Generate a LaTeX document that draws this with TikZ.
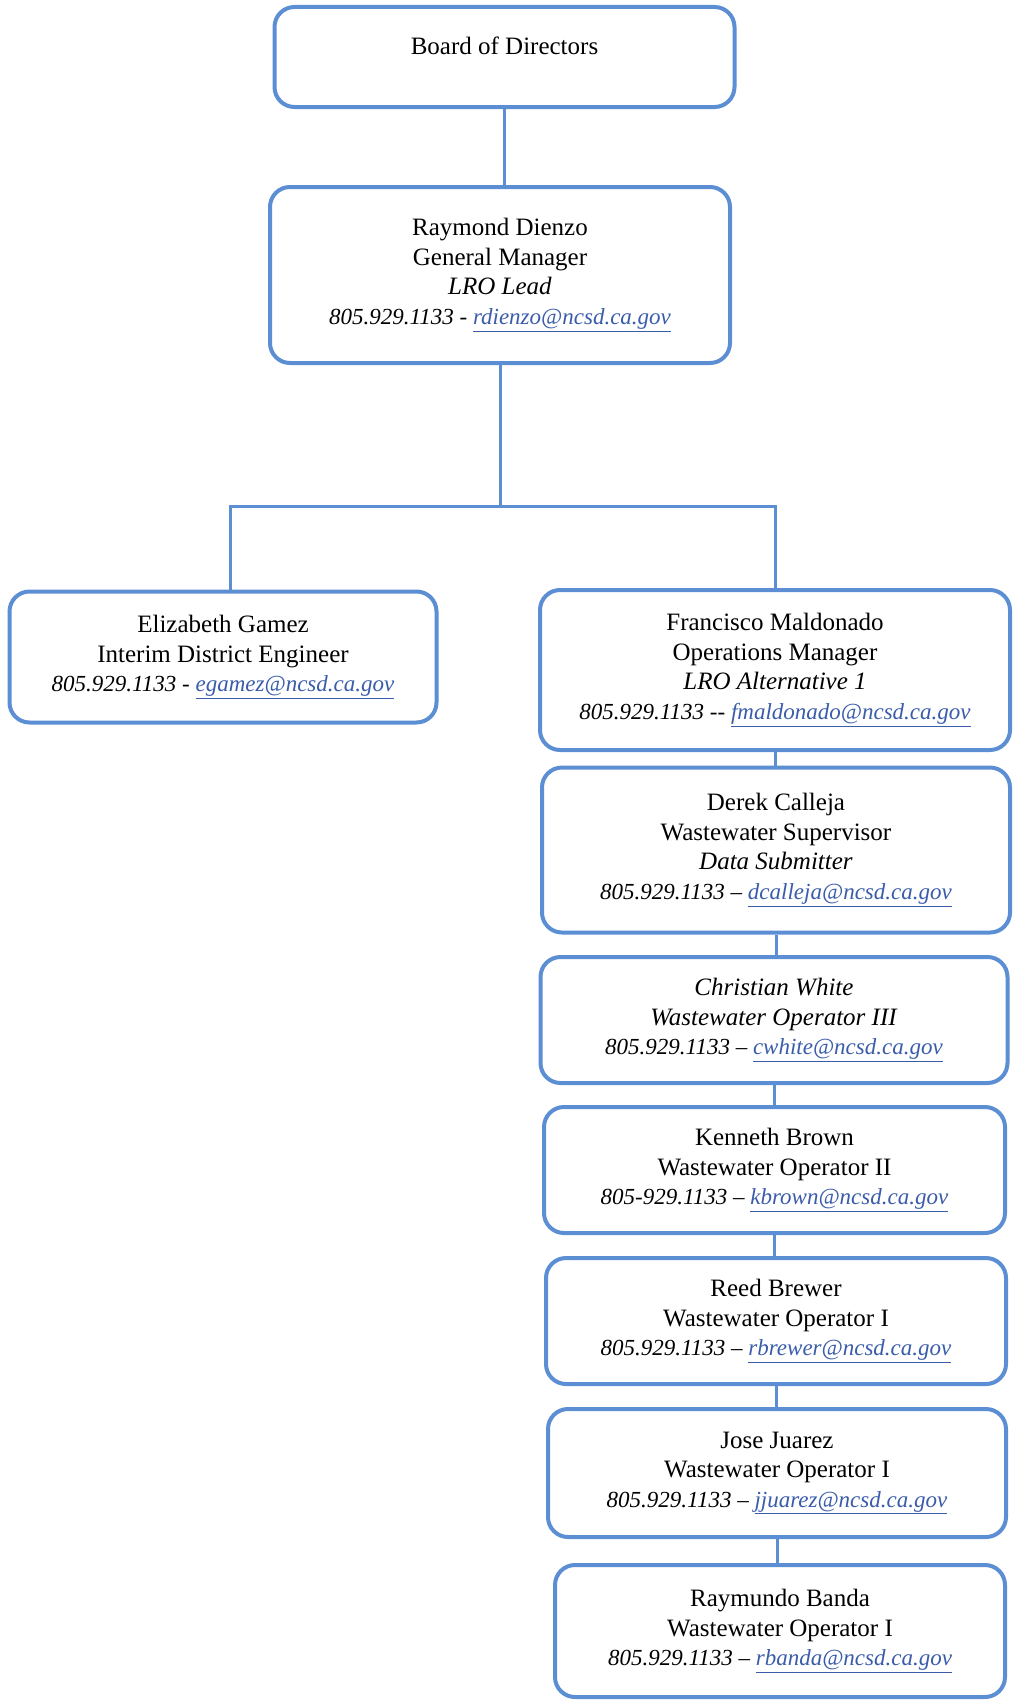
\documentclass[tikz,border=0pt]{standalone}
\usepackage{fontspec}
\setmainfont{Liberation Serif}
\usetikzlibrary{positioning}

\definecolor{boxblue}{RGB}{92,142,212}
\definecolor{linkblue}{RGB}{58,92,170}
\newcommand{\mail}[1]{\textcolor{linkblue}{\underline{#1}}}
\newcommand{\phone}[1]{{\fontsize{23}{29.5}\selectfont\itshape #1}}

\begin{document}
\begin{tikzpicture}[
		x=1pt,y=-1pt,
		box/.style={draw=boxblue, line width=4pt, rounded corners=20pt,
			align=center, inner sep=0pt, font=\fontsize{25}{29.5}\selectfont},
		link/.style={draw=boxblue, line width=3pt}
		]
		\useasboundingbox (0,0) rectangle (1013,1702);
		
		% =========================
		% Top: board and manager
		% =========================
		\node[box, minimum width=460pt, minimum height=100pt] (board) at (504.5,57)
		{Board of Directors\\[-7pt] \mbox{}};
		
		\node[box, minimum width=460pt, minimum height=176pt] (gm) at (500,275) {
			Raymond Dienzo\\
			General Manager\\
			\textit{LRO Lead}\\
			\phone{805.929.1133 - \mail{rdienzo@ncsd.ca.gov}}
		};
		
		% =========================
		% Second level
		% =========================
		\node[box, minimum width=427pt, minimum height=131pt] (gamez) at (223,657) {
			Elizabeth Gamez\\
			Interim District Engineer\\
			\phone{805.929.1133 - \mail{egamez@ncsd.ca.gov}}
		};
		
		\node[box, minimum width=470pt, minimum height=160pt] (maldonado) at (775,670) {
			Francisco Maldonado\\
			Operations Manager\\
			\textit{LRO Alternative 1}\\
			\phone{805.929.1133 -{}- \mail{fmaldonado@ncsd.ca.gov}}
		};
		
		% =========================
		% Right column: wastewater staff
		% =========================
		\node[box, minimum width=468pt, minimum height=165pt] (calleja) at (776,850) {
			Derek Calleja\\
			Wastewater Supervisor\\
			\textit{Data Submitter}\\
			\phone{805.929.1133 -- \mail{dcalleja@ncsd.ca.gov}}
		};
		
		\node[box, minimum width=467pt, minimum height=126pt] (white) at (774,1020) {
			\textit{Christian White}\\
			\textit{Wastewater Operator III}\\
			\phone{805.929.1133 -- \mail{cwhite@ncsd.ca.gov}}
		};
		
		\node[box, minimum width=461pt, minimum height=126pt] (brown) at (774.5,1170) {
			Kenneth Brown\\
			Wastewater Operator II\\
			\phone{805-929.1133 -- \mail{kbrown@ncsd.ca.gov}}
		};
		
		\node[box, minimum width=460pt, minimum height=126pt] (brewer) at (776,1321) {
			Reed Brewer\\
			Wastewater Operator I\\
			\phone{805.929.1133 -- \mail{rbrewer@ncsd.ca.gov}}
		};
		
		\node[box, minimum width=458pt, minimum height=128pt] (juarez) at (777,1473) {
			Jose Juarez\\
			Wastewater Operator I\\
			\phone{805.929.1133 -- \mail{jjuarez@ncsd.ca.gov}}
		};
		
		\node[box, minimum width=450pt, minimum height=132pt] (banda) at (780,1631) {
			Raymundo Banda\\
			Wastewater Operator I\\
			\phone{805.929.1133 -- \mail{rbanda@ncsd.ca.gov}}
		};
		
		% =========================
		% Connectors
		% =========================
		\coordinate (bus) at (498,506);
		\coordinate (drop) at ([xshift=7pt]gamez.north);
		
		\draw[link] (board.south) -- (board.south |- gm.north);
		\draw[link] (gm.south) -- (gm.south |- bus);
		\draw[link] (drop) |- (bus) -| (maldonado.north);
		
		\draw[link] (maldonado.south) -- (maldonado.south |- calleja.north);
		\draw[link] (calleja.south) -- (calleja.south |- white.north);
		\draw[link] (white.south) -- (white.south |- brown.north);
		\draw[link] (brown.south) -- (brown.south |- brewer.north);
		\draw[link] (brewer.south) -- (brewer.south |- juarez.north);
		\draw[link] (juarez.south) -- (juarez.south |- banda.north);
		
	\end{tikzpicture}
\end{document}
